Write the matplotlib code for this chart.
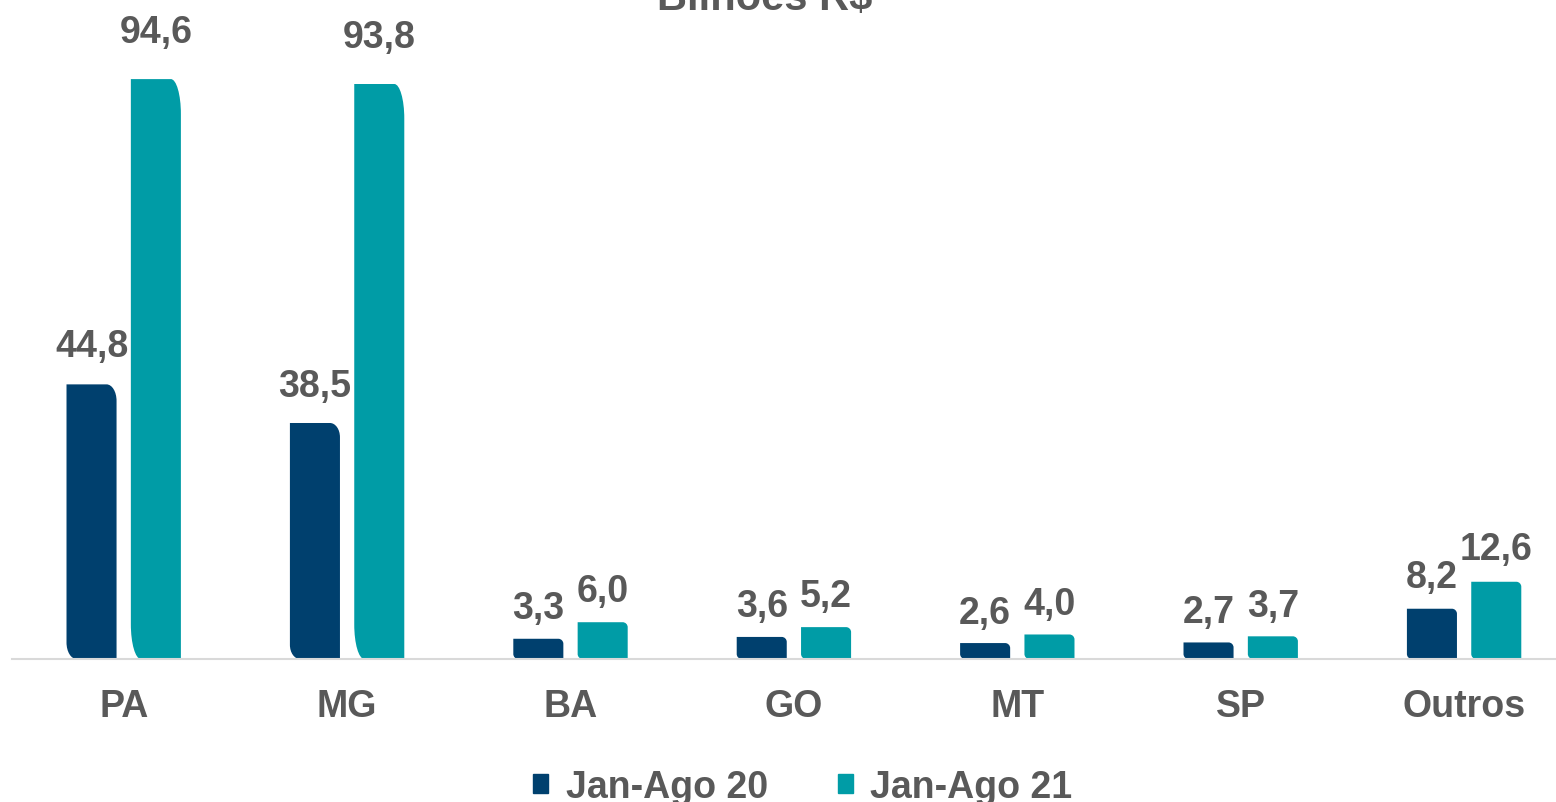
import matplotlib
matplotlib.use('Agg')
import matplotlib.pyplot as plt
from matplotlib.path import Path
from matplotlib.patches import PathPatch, Rectangle
import numpy as np

plt.rcParams['font.family'] = ['Liberation Sans', 'DejaVu Sans']

# Dados (bilhões R$)
estados = ['PA', 'MG', 'BA', 'GO', 'MT', 'SP', 'Outros']
jan_ago_20 = [44.8, 38.5, 3.3, 3.6, 2.6, 2.7, 8.2]
jan_ago_21 = [94.6, 93.8, 6.0, 5.2, 4.0, 3.7, 12.6]
series_nomes = ['Jan-Ago 20', 'Jan-Ago 21']

cor_escura = '#00406E'
cor_teal = '#009CA6'
cinza = '#595959'
fs = 27

W, H = 1556, 803
fig = plt.figure(figsize=(W / 100, H / 100), dpi=100)
# eixo: baseline em y=660px, 223.4 px por categoria
px_cat = 223.4
ax = fig.add_axes([12 / W, (H - 660) / H, 7 * px_cat / W, 613 / H])
ax.set_xlim(-0.5, 6.5)
ax.set_ylim(0, 100)

x = np.arange(len(estados))
larg = 0.224
desl = 0.144
b1 = ax.bar(x - desl, jan_ago_20, width=larg, color=cor_escura)
b2 = ax.bar(x + desl, jan_ago_21, width=larg, color=cor_teal)

px_y = 6.13  # pixels por unidade no eixo y
k = 0.5523


def barra_arredondada(r):
    x0, y0 = r.get_x(), r.get_y()
    w, h = r.get_width(), r.get_height()
    x1, y1 = x0 + w, y0 + h
    h_px = h * px_y
    ry_px = np.clip(0.06 * h_px, 5, 35)
    rx_px = min(10, ry_px)
    rx = rx_px / px_cat
    ry = ry_px / px_y
    verts = [
        (x0, y0 + ry),
        (x0, y1),
        (x1 - rx, y1),
        (x1 - rx + k * rx, y1), (x1, y1 - ry + k * ry), (x1, y1 - ry),
        (x1, y0),
        (x0 + rx, y0),
        (x0 + rx - k * rx, y0), (x0, y0 + ry - k * ry), (x0, y0 + ry),
        (x0, y0 + ry),
    ]
    codes = [Path.MOVETO, Path.LINETO, Path.LINETO,
             Path.CURVE4, Path.CURVE4, Path.CURVE4,
             Path.LINETO, Path.LINETO,
             Path.CURVE4, Path.CURVE4, Path.CURVE4,
             Path.CLOSEPOLY]
    p = PathPatch(Path(verts, codes), facecolor=r.get_facecolor(),
                  edgecolor='none', zorder=2)
    r.set_visible(False)
    ax.add_patch(p)
    # rótulo de valor
    off = (20 + 0.03 * h_px) * 0.72
    ax.annotate(f'{h:.1f}'.replace('.', ','), (x0 + w / 2, y1),
                xytext=(0, off), textcoords='offset points',
                ha='center', va='baseline', fontsize=fs,
                fontweight='bold', color=cinza)


for r in list(b1) + list(b2):
    barra_arredondada(r)

ax.set_xticks(x)
ax.set_xticklabels(estados, fontsize=fs, fontweight='bold', color=cinza)
ax.tick_params(axis='x', length=0, pad=21)
ax.set_yticks([])
for s in ['top', 'left', 'right']:
    ax.spines[s].set_visible(False)
ax.spines['bottom'].set_color('#D9D9D9')
ax.spines['bottom'].set_linewidth(1.5)
ax.spines['bottom'].set_zorder(3)

fig.text(765 / W, 1 - 10 / H, 'Bilhões R$', ha='center', va='baseline',
         fontsize=30, fontweight='bold', color=cinza)

handles = [Rectangle((0, 0), 1, 1, color=cor_escura),
           Rectangle((0, 0), 1, 1, color=cor_teal)]
fig.legend(handles, series_nomes, loc='center', bbox_to_anchor=(803 / W, 1 - 788 / H),
           ncol=2, frameon=False, handlelength=0.4, handleheight=0.4,
           handletextpad=0.48, columnspacing=1.84, borderpad=0,
           prop={'size': fs, 'weight': 'bold'}, labelcolor=cinza)

fig.savefig('out.png', dpi=100)
